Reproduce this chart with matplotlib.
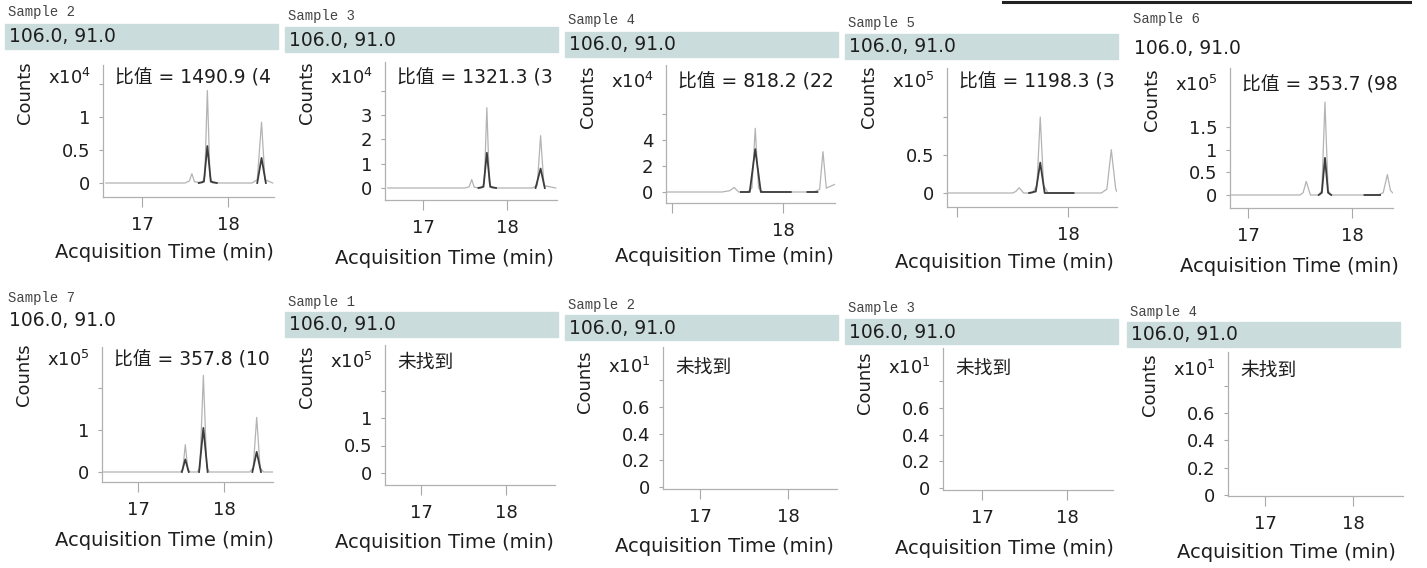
import numpy as np
import matplotlib.pyplot as plt
from matplotlib.patches import Rectangle
from matplotlib.lines import Line2D

plt.rcParams['font.family'] = ['DejaVu Sans', 'Noto Sans CJK SC']

W, H = 1427, 568
nan = np.nan

# ---- data ----
samples = ['Sample 2', 'Sample 3', 'Sample 4', 'Sample 5', 'Sample 6',
           'Sample 7', 'Sample 1', 'Sample 2', 'Sample 3', 'Sample 4']
transition = '106.0, 91.0'
exponents = [4, 4, 4, 5, 5, 5, 5, 1, 1, 1]
ratios = ['1490.9 (4', '1321.3 (3', '818.2 (22', '1198.3 (3', '353.7 (98',
          '357.8 (10', None, None, None, None]
not_found = '未找到'

yticks = [[0, 0.5, 1, 1.5], [0, 1, 2, 3, 4], [0, 2, 4, 6], [0, 0.5, 1],
          [0, 0.5, 1, 1.5], [0, 1, 2], [0, 0.5, 1, 1.5],
          [0, 0.2, 0.4, 0.6, 0.8], [0, 0.2, 0.4, 0.6, 0.8], [0, 0.2, 0.4, 0.6, 0.8]]
ytick_labels = [['0', '0.5', '1', ''], ['0', '1', '2', '3', ''], ['0', '2', '4', ''],
                ['0', '0.5', ''], ['0', '0.5', '1', '1.5'], ['0', '1', ''],
                ['0', '0.5', '1', ''], ['0', '0.2', '0.4', '0.6', ''],
                ['0', '0.2', '0.4', '0.6', ''], ['0', '0.2', '0.4', '0.6', '']]
xticks = [17, 18]
xtick_labels = [['17', '18'], ['17', '18'], ['', '18'], ['', '18'], ['17', '18'],
                ['17', '18'], ['17', '18'], ['17', '18'], ['17', '18'], ['17', '18']]

# light trace (full chromatogram) per panel
light_t = [
    [16.58, 17.50, 17.55, 17.58, 17.61, 17.70, 17.73, 17.76, 17.79, 17.82, 18.28, 18.34, 18.39, 18.43, 18.52],
    [16.58, 17.50, 17.55, 17.58, 17.61, 17.70, 17.73, 17.76, 17.79, 17.82, 18.30, 18.36, 18.40, 18.44, 18.58],
    [16.95, 17.45, 17.52, 17.56, 17.60, 17.68, 17.72, 17.75, 17.78, 17.82, 18.28, 18.33, 18.36, 18.39, 18.47],
    [16.91, 17.50, 17.53, 17.56, 17.60, 17.68, 17.72, 17.75, 17.78, 17.82, 18.30, 18.35, 18.39, 18.43, 18.44],
    [16.83, 17.50, 17.53, 17.56, 17.60, 17.68, 17.71, 17.74, 17.77, 17.80, 18.25, 18.30, 18.34, 18.37, 18.39],
    [16.58, 17.49, 17.52, 17.55, 17.58, 17.61, 17.69, 17.72, 17.76, 17.80, 17.83, 18.30, 18.34, 18.38, 18.42, 18.46, 18.57],
    [], [], [], [],
]
light_y = [
    [0, 0, 0.03, 0.14, 0.02, 0, 0.1, 1.40, 0.1, 0, 0, 0.05, 0.92, 0.05, 0],
    [0, 0, 0.05, 0.35, 0.03, 0, 0.2, 3.3, 0.2, 0, 0, 0.1, 2.15, 0.1, 0],
    [0, 0, 0.1, 0.35, 0, 0, 0.3, 4.9, 0.3, 0, 0, 0.2, 3.1, 0.3, 0.6],
    [0, 0, 0.02, 0.07, 0, 0, 0.1, 1.0, 0.1, 0, 0, 0.05, 0.57, 0.05, 0.02],
    [0, 0, 0.05, 0.3, 0, 0, 0.1, 2.05, 0.1, 0, 0, 0.05, 0.45, 0.1, 0.05],
    [0, 0, 0.05, 0.65, 0.05, 0, 0, 0.1, 2.3, 0.1, 0, 0, 0.1, 1.3, 0.1, 0, 0],
    [], [], [], [],
]
# dark trace (integrated quantifier peak)
dark_t = [
    [17.66, 17.72, 17.76, 17.80, 17.87, nan, 18.34, 18.39, 18.44],
    [17.66, 17.72, 17.76, 17.80, 17.87, nan, 18.34, 18.40, 18.45],
    [17.62, 17.70, 17.75, 17.80, 18.07, nan, 18.22, 18.31],
    [17.65, 17.71, 17.75, 17.79, 18.05],
    [17.68, 17.71, 17.74, 17.77, 17.80, nan, 18.12, 18.27],
    [17.51, 17.55, 17.59, nan, 17.71, 17.76, 17.81, nan, 18.33, 18.38, 18.43],
    [], [], [], [],
]
dark_y = [
    [0, 0.02, 0.56, 0.02, 0, nan, 0, 0.38, 0],
    [0, 0.05, 1.45, 0.05, 0, nan, 0, 0.8, 0],
    [0, 0, 3.3, 0, 0, nan, 0, 0],
    [0, 0.02, 0.4, 0, 0],
    [0, 0.05, 0.82, 0.05, 0, nan, 0, 0],
    [0, 0.3, 0, nan, 0, 1.05, 0, nan, 0, 0.48, 0],
    [], [], [], [],
]

# ---- layout in pixels of the scanned page ----
boxes = [(103, 65, 274, 197), (385, 62, 557, 200), (666, 65, 835, 203),
         (947, 68, 1117, 207), (1230, 68, 1393, 208), (102, 347, 273, 482),
         (385, 345, 555, 485), (663, 347, 837, 489), (943, 348, 1113, 490),
         (1228, 352, 1403, 496)]
x_anchor = [(142, 228), (423, 507), (672, 783), (957, 1068), (1248, 1352),
            (138, 224), (421, 506), (700, 788), (982, 1067), (1265, 1353)]
y_anchor = [(183, 117, 1), (188, 115, 3), (192, 140, 4), (193, 155, 0.5),
            (195, 127, 1.5), (472, 430, 1), (473, 418, 1), (487, 407, 0.6),
            (488, 408, 0.6), (495, 413, 0.6)]
origin_x = [8, 288, 568, 848, 1133, 8, 288, 568, 848, 1130]
sample_y = [12, 16, 20, 23, 19, 298, 302, 305, 308, 312]
mz_y = [37, 40, 45, 47, 49, 320, 325, 328, 332, 335]
has_band = [True, True, True, True, False, False, True, True, True, True]
row_y = [78, 78, 82, 82, 85, 360, 362, 367, 368, 370]
xlabel_y = [253, 258, 257, 263, 267, 540, 543, 547, 548, 553]

fig = plt.figure(figsize=(W / 100, H / 100), dpi=100)


def fx(px):
    return px / W


def fy(py):
    return 1 - py / H


txt = '#1e1e1e'
for i in range(10):
    ox = origin_x[i]
    if has_band[i]:
        fig.patches.append(Rectangle((fx(ox - 3), fy(mz_y[i] + 12)), 273 / W, 25 / H,
                                     transform=fig.transFigure, color='#cbdcdc',
                                     zorder=0))
    fig.text(fx(ox), fy(sample_y[i]), samples[i], family='Liberation Mono',
             fontsize=10, color='#444444', va='center', ha='left')
    fig.text(fx(ox + 1), fy(mz_y[i]), transition, fontsize=13.5, color=txt,
             va='center', ha='left')

    L, T, R, B = boxes[i]
    ax = fig.add_axes([fx(L), fy(B), (R - L) / W, (B - T) / H])
    ax.patch.set_alpha(0)
    x17, x18 = x_anchor[i]
    sx = x18 - x17
    ax.set_xlim(17 + (L - x17) / sx, 17 + (R - x17) / sx)
    y0, yv, v = y_anchor[i]
    sy = (y0 - yv) / v
    ax.set_ylim((y0 - B) / sy, (y0 - T) / sy)

    if light_t[i]:
        ax.plot(light_t[i], light_y[i], color='#b3b3b3', lw=0.9)
    if dark_t[i]:
        ax.plot(dark_t[i], dark_y[i], color='#3c3c3c', lw=1.3)

    for s in ['top', 'right']:
        ax.spines[s].set_visible(False)
    for s in ['left', 'bottom']:
        ax.spines[s].set_color('#b0b0b0')
        ax.spines[s].set_linewidth(0.9)
    ax.set_xticks(xticks)
    ax.set_xticklabels(xtick_labels[i])
    ax.set_yticks(yticks[i])
    ax.set_yticklabels(ytick_labels[i])
    ax.tick_params(colors='#a8a8a8', labelcolor=txt, labelsize=13, width=0.8)
    ax.tick_params(axis='x', length=7, pad=7)
    ax.tick_params(axis='y', length=3, pad=6)

    fig.text(fx(L - 78), fy(row_y[i] + 15), 'Counts', rotation=90, fontsize=13,
             color=txt, va='center', ha='center')
    fig.text(fx(L - 55), fy(row_y[i]), 'x10$^{%d}$' % exponents[i], fontsize=13,
             color=txt, va='center', ha='left')
    label = '比值 = ' + ratios[i] if ratios[i] else not_found
    fig.text(fx(L + 12), fy(row_y[i]), label, fontsize=13.5, color=txt,
             va='center', ha='left')
    fig.text(fx(ox + 156), fy(xlabel_y[i]), 'Acquisition Time (min)', fontsize=14,
             color=txt, va='center', ha='center')

fig.add_artist(Line2D([fx(1003), fx(1410)], [fy(1.5), fy(1.5)], color='#222222', lw=2.2))

fig.savefig('out.png', dpi=100)
